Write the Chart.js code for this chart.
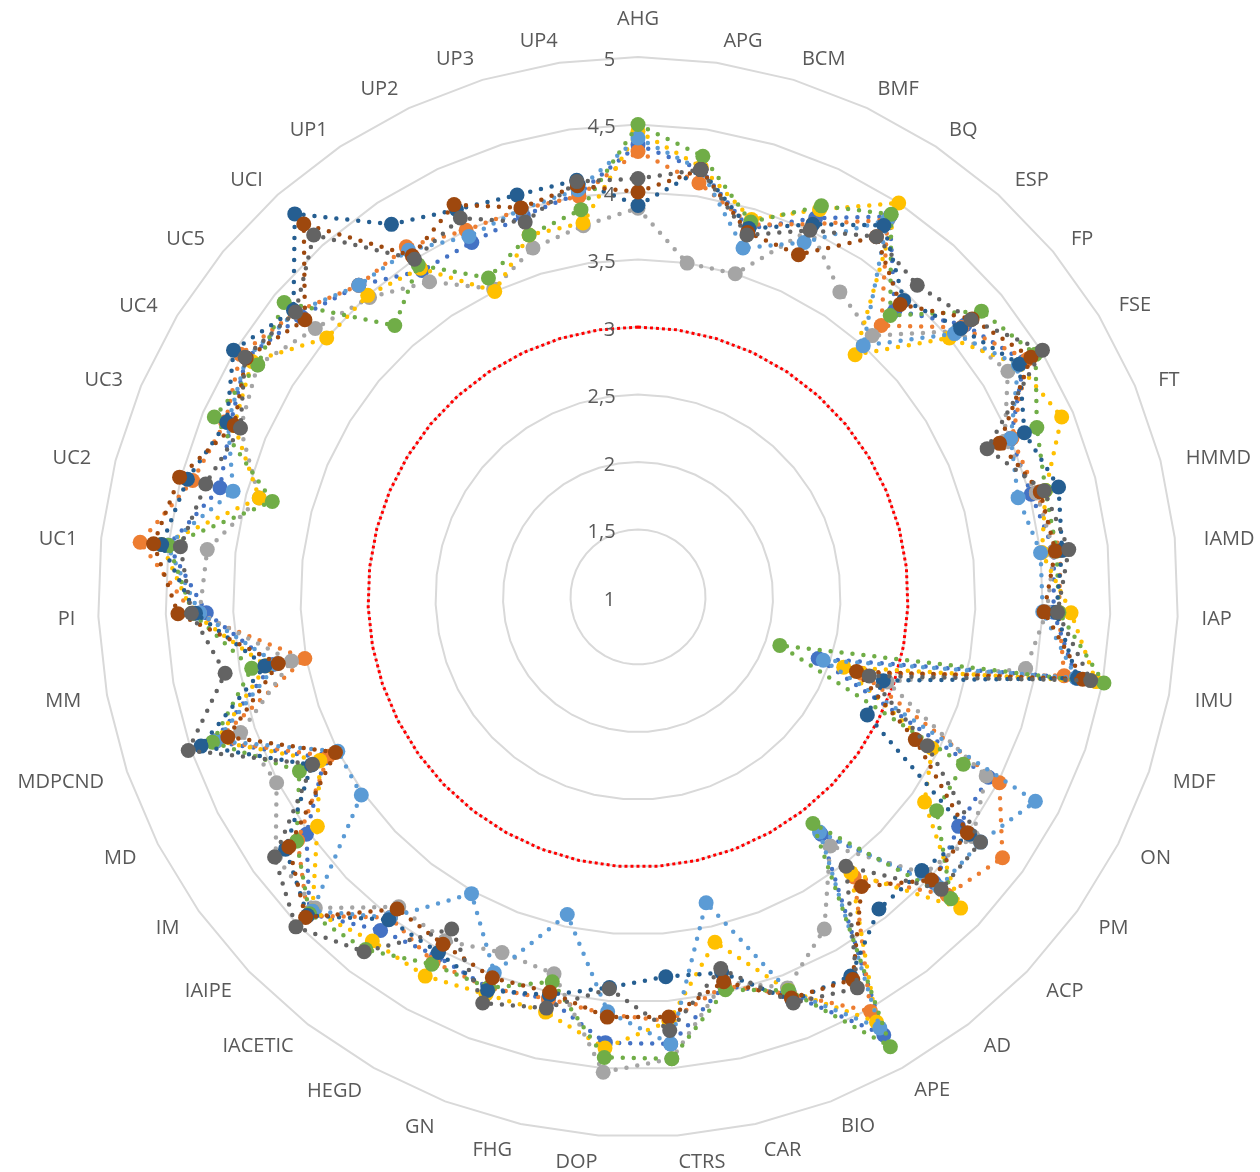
<!DOCTYPE html>
<html><head><meta charset="utf-8">
<script src="https://cdn.jsdelivr.net/npm/chart.js@4.4.1/dist/chart.umd.min.js"></script>
<style>
html,body{margin:0;padding:0;overflow:hidden;background:#fff;width:1260px;height:1172px;}
#wrap{position:absolute;left:-62px;top:1px;width:1400px;height:1180px;}
</style></head><body>
<div id="wrap"><canvas id="c" width="1400" height="1180"></canvas></div>
<script>
const categories = ["AHG","APG","BCM","BMF","BQ","ESP","FP","FSE","FT","HMMD","IAMD","IAP","IMU","MDF","ON","PM","ACP","AD","APE","BIO","CAR","CTRS","DOP","FHG","GN","HEGD","IACETIC","IAIPE","IM","MD","MDPCND","MM","PI","UC1","UC2","UC3","UC4","UC5","UCI","UP1","UP2","UP3","UP4"];
const tickValues = [1,1.5,2,2.5,3,3.5,4,4.5,5];

const serie1 = [4.35,4.20,3.85,4.10,4.38,3.85,4.15,4.35,4.00,4.01,4.10,4.08,4.30,2.41,3.92,3.92,4.05,3.22,4.72,4.15,3.95,4.32,4.31,4.05,4.10,4.05,4.12,4.38,4.02,3.61,4.32,3.75,4.20,4.50,4.20,4.28,4.40,4.25,4.10,3.90,3.90,3.95,4.02];
const serie2 = [4.30,4.10,3.88,4.05,4.35,3.70,4.12,4.38,4.01,4.05,4.15,4.12,4.21,2.75,4.01,4.32,4.18,3.62,4.52,4.15,3.95,4.15,4.10,4.05,4.10,4.10,4.00,4.40,4.10,3.58,4.30,3.51,4.30,4.71,4.41,4.32,4.45,4.30,4.10,4.11,4.00,4.00,4.00];
const serie3 = [3.88,3.50,3.50,4.01,3.71,3.60,4.08,4.21,3.95,4.05,4.10,4.03,3.92,2.95,3.90,4.05,3.95,3.33,3.82,4.10,3.92,4.43,4.53,3.86,3.82,3.92,3.90,4.32,4.30,4.01,4.11,3.61,4.25,4.21,3.90,4.20,4.30,4.11,3.98,3.80,3.52,3.70,3.78];
const serie4 = [4.45,4.22,3.92,4.17,4.50,3.41,4.00,4.30,4.41,4.12,4.01,4.21,4.45,2.61,3.45,3.61,4.32,3.58,4.61,4.12,3.62,4.15,4.35,4.15,4.15,4.22,4.22,4.35,3.92,3.65,4.30,3.80,4.30,4.55,3.90,4.25,4.35,4.00,4.00,3.92,3.50,3.80,3.80];
const serie5 = [4.40,4.20,3.70,3.90,4.35,3.50,4.05,4.30,4.00,3.91,4.00,4.00,4.30,2.45,4.31,4.12,4.10,3.20,4.66,4.13,3.32,4.32,4.08,3.41,3.98,3.52,4.00,4.35,3.52,3.50,4.30,3.72,4.25,4.51,4.10,4.30,4.40,4.30,4.10,4.08,3.95,4.00,4.05];
const serie6 = [4.50,4.30,3.90,4.20,4.40,3.80,4.31,4.45,4.21,4.12,4.12,4.12,4.51,2.11,3.71,3.72,4.22,3.12,4.82,4.12,3.98,4.43,4.42,3.92,4.10,4.12,4.30,4.38,4.11,3.82,4.33,3.91,4.30,4.50,3.80,4.41,4.30,4.41,3.70,3.95,3.61,3.80,3.90];
const serie7 = [3.90,4.20,3.85,4.05,4.30,3.95,4.11,4.31,4.11,4.22,4.16,4.10,4.31,2.92,2.91,4.02,3.92,3.92,4.22,4.20,3.85,3.82,3.90,4.02,4.12,4.02,4.02,4.40,4.21,3.72,4.42,3.81,4.28,4.55,4.45,4.31,4.51,4.32,4.81,4.31,4.17,4.11,4.12];
const serie8 = [4.00,4.20,3.82,3.80,4.20,3.91,4.22,4.41,3.91,4.08,4.11,4.01,4.35,2.71,3.31,4.00,4.02,3.71,4.25,4.18,3.92,4.12,4.12,4.00,4.02,3.95,3.92,4.42,4.18,3.52,4.21,3.71,4.41,4.61,4.51,4.25,4.40,4.21,4.71,4.03,4.21,4.01,4.08];
const serie9 = [4.10,4.20,3.80,4.00,4.20,4.10,4.21,4.51,3.81,4.11,4.21,4.11,4.41,2.81,3.41,4.12,4.12,3.52,4.32,4.22,3.82,4.22,3.91,4.12,4.22,3.82,4.32,4.52,4.31,3.71,4.52,4.11,4.31,4.41,4.31,4.20,4.41,4.30,4.60,4.00,4.10,3.90,4.11];
const threshold = categories.map(() => 3);

// ---- style (not data): per-label placement tweaks for the category labels ----
const labelPad   = [16,1,1,2,4.2,6.7,6.6,7,3.9,0.1,-22.6,14,11,15.1,9,9.7,9.9,7.3,4,4,5,4.5,4.5,5,5.1,3.4,5,7,7.5,8,14.1,11,13,-22.6,-0.9,3.9,6.5,6.6,4.3,3,2,1,1];
const labelLineH = [24,22,20,16,10,4,4,4,0,0,0,4,4,6,12,12,12,16,20,24,24,24,24,24,24,24,20,16,14,12,6,4,4,0,0,0,2,4,8,12,16,20,22];
const labelShift = [0,1,1,1,1,1,1,1,2,3,8,0,1,0,1,1,1,1,1,1,1,0,0,1,1,1,1,1,1,1,0,1,0,7,3,1,1,1,1,1,1,1,0];
const FONT = "'Open Sans', 'DejaVu Sans', sans-serif";
const TEXT = '#595959';

function pointLabelText(label, i) {
  const n = labelShift[i];
  if (!n) return label;
  const pad = ' '.repeat(n);
  return i <= 21 ? pad + label : label + pad;   // right half: left-aligned, left half: right-aligned
}

const mctx = document.createElement('canvas').getContext('2d');
mctx.font = "20px 'Open Sans'";
function tickText(v) {
  const t = String(v).replace('.', ',');
  const wt = mctx.measureText(t).width;
  const ws = mctx.measureText(' ').width;
  const n = Math.max(0, Math.round((wt + 46) / ws));
  // empty first line + small line height nudges the label slightly below its ring, as in the original
  return ['', t + ' '.repeat(n)];
}

function series(label, data, color, order) {
  return {
    label, data, order,
    borderColor: color, backgroundColor: color,
    pointBackgroundColor: color, pointBorderColor: color,
    pointBorderWidth: 0, pointRadius: 7.5, pointHoverRadius: 7.5,
    borderWidth: 4.5, borderDash: [0, 11], borderCapStyle: 'round',
    fill: false
  };
}

const datasets = [
  series('Serie 1', serie1, '#4472C4', -1),
  series('Serie 2', serie2, '#ED7D31', -2),
  series('Serie 3', serie3, '#A5A5A5', -3),
  series('Serie 4', serie4, '#FFC000', -4),
  series('Serie 5', serie5, '#5B9BD5', -5),
  series('Serie 6', serie6, '#70AD47', -6),
  series('Serie 7', serie7, '#255E91', -7),
  series('Serie 8', serie8, '#9E480E', -8),
  series('Serie 9', serie9, '#636363', -9),
  {
    label: 'Umbral', data: threshold, order: 5,
    borderColor: '#FF0000', backgroundColor: '#FF0000',
    borderWidth: 3, borderDash: [3, 3], pointRadius: 0, fill: false
  }
];

new Chart(document.getElementById('c'), {
  type: 'radar',
  data: { labels: categories, datasets },
  options: {
    responsive: false,
    animation: false,
    layout: { padding: 0 },
    plugins: { legend: { display: false }, tooltip: { enabled: false }, title: { display: false } },
    scales: {
      r: {
        min: 1, max: 5,
        afterBuildTicks: (scale) => {
          scale.ticks = [{ value: tickValues[0] }].concat(tickValues.map(v => ({ value: v })));
        },
        ticks: {
          callback: (v) => tickText(v),
          showLabelBackdrop: false,
          backdropPadding: 0,
          color: TEXT,
          font: { family: FONT, size: 20, lineHeight: '3px' },
          z: 1
        },
        grid: { color: '#D9D9D9', lineWidth: 2, circular: false },
        angleLines: { display: false },
        pointLabels: {
          color: TEXT,
          callback: pointLabelText,
          font: (ctx) => ({ family: FONT, size: 20, lineHeight: labelLineH[ctx.index] + 'px' }),
          padding: (ctx) => labelPad[ctx.index]
        }
      }
    }
  }
});
</script>
</body></html>
